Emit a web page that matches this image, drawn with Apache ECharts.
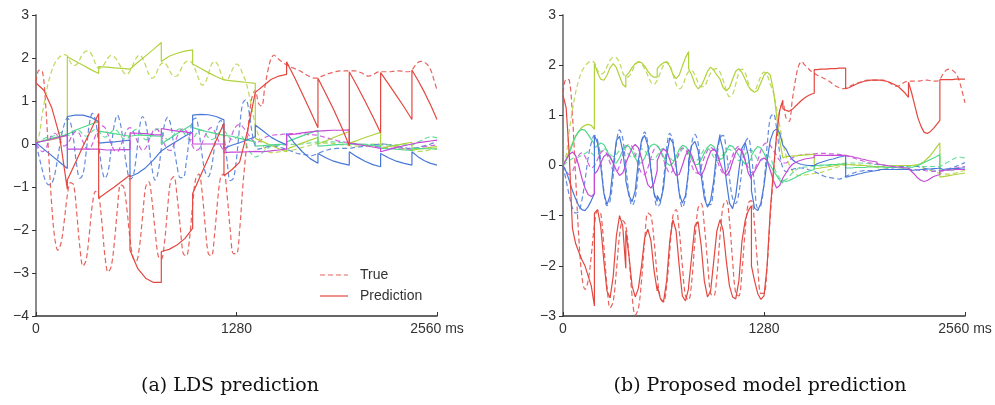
<!DOCTYPE html>
<html>
<head>
<meta charset="utf-8">
<script src="https://cdn.jsdelivr.net/npm/echarts@6/dist/echarts.min.js"></script>
<style>html,body{margin:0;padding:0;background:#fff;}#c{width:995px;height:405px;}</style>
</head>
<body>
<div id="c"></div>
<script>
// ---------- DATA ----------
// time grid of the ground-truth curves (ms, every 20 ms)
const trueStep = 20, trueEnd = 2560;
const segLen = 200; // prediction restart period (ms)
const xTicks = [0, 1280, 2560];
const captions = ['(a) LDS prediction', '(b) Proposed model prediction'];
const legendNames = ['True', 'Prediction'];

// ground truth (shared by both panels)
const trueRed = [1.45,1.72,1.7,1.0,-0.2,-1.4,-2.2,-2.47,-2.3,-1.8,-1.2,-0.9,-0.95,-1.6,-2.4,-2.84,-2.7,-2.1,-1.4,-1.1,-1.2,-1.8,-2.6,-2.98,-2.85,-2.3,-1.5,-0.95,-1.0,-1.5,-2.2,-2.65,-2.72,-2.4,-1.7,-1.0,-0.88,-1.3,-2.0,-2.6,-2.68,-2.3,-1.5,-0.85,-0.76,-1.2,-1.9,-2.55,-2.6,-2.2,-1.4,-0.8,-0.7,-1.1,-1.9,-2.55,-2.6,-2.1,-1.3,-0.75,-0.7,-1.2,-2.0,-2.55,-2.55,-2.0,-1.0,-0.2,0.6,1.1,1.25,0.95,0.88,1.3,1.7,1.98,2.07,2.0,1.94,1.88,1.84,1.8,1.77,1.74,1.71,1.67,1.62,1.58,1.55,1.53,1.54,1.57,1.6,1.63,1.65,1.67,1.69,1.7,1.7,1.7,1.7,1.7,1.7,1.68,1.65,1.61,1.58,1.59,1.63,1.67,1.68,1.68,1.68,1.68,1.69,1.7,1.7,1.69,1.68,1.68,1.72,1.82,1.9,1.92,1.9,1.84,1.72,1.5,1.25];
const trueLime = [0.0,0.2,0.7,1.1,1.45,1.7,1.88,1.98,2.05,2.08,2.05,1.9,1.82,1.85,1.97,2.1,2.16,2.15,2.05,1.86,1.76,1.78,1.88,2.0,2.06,2.03,1.93,1.8,1.66,1.62,1.7,1.85,2.0,2.07,2.0,1.82,1.62,1.53,1.58,1.75,1.87,1.89,1.8,1.66,1.57,1.58,1.7,1.84,1.92,1.93,1.86,1.7,1.5,1.37,1.42,1.62,1.85,1.92,1.85,1.65,1.5,1.5,1.62,1.78,1.86,1.8,1.62,1.45,1.15,0.8,0.45,0.2,0.02,-0.1,-0.17,-0.2,-0.2,-0.19,-0.18,-0.17,-0.16,-0.15,-0.14,-0.12,-0.1,-0.08,-0.06,-0.04,-0.02,0.0,0.01,0.02,0.02,0.02,0.02,0.01,0.0,-0.01,-0.02,-0.03,-0.04,-0.05,-0.05,-0.05,-0.04,-0.03,-0.02,-0.01,0.0,0.0,0.0,0.0,-0.01,-0.02,-0.04,-0.06,-0.08,-0.1,-0.12,-0.14,-0.15,-0.16,-0.17,-0.17,-0.16,-0.15,-0.13,-0.11,-0.1];
const trueBlue = [0.0,-0.3,-0.6,-0.85,-0.95,-0.92,-0.7,-0.3,0.15,0.45,0.6,0.5,0.1,-0.5,-0.8,-0.7,-0.2,0.45,0.71,0.55,0.0,-0.55,-0.8,-0.65,-0.1,0.45,0.67,0.45,-0.05,-0.55,-0.82,-0.75,-0.3,0.35,0.64,0.5,0.0,-0.55,-0.84,-0.65,-0.1,0.45,0.62,0.45,-0.05,-0.5,-0.78,-0.78,-0.4,0.15,0.55,0.6,0.3,-0.25,-0.65,-0.76,-0.55,-0.05,0.45,0.55,0.2,-0.4,-0.85,-0.8,-0.35,0.4,0.95,1.03,0.75,0.25,-0.05,-0.12,-0.1,-0.08,-0.06,-0.05,-0.05,-0.06,-0.08,-0.1,-0.12,-0.15,-0.18,-0.21,-0.23,-0.24,-0.25,-0.26,-0.27,-0.25,-0.22,-0.19,-0.16,-0.14,-0.12,-0.11,-0.1,-0.1,-0.1,-0.1,-0.1,-0.09,-0.08,-0.07,-0.06,-0.05,-0.04,-0.03,-0.02,-0.01,0.0,0.0,-0.01,-0.02,-0.04,-0.05,-0.07,-0.08,-0.09,-0.1,-0.1,-0.09,-0.08,-0.06,-0.04,-0.02,0.0,0.03,0.06];
const trueGreen = [0.0,0.05,0.1,0.14,0.16,0.17,0.2,0.24,0.27,0.25,0.2,0.22,0.29,0.33,0.3,0.22,0.18,0.22,0.3,0.34,0.3,0.21,0.16,0.2,0.28,0.33,0.3,0.2,0.12,0.12,0.2,0.3,0.34,0.28,0.17,0.1,0.12,0.22,0.32,0.35,0.28,0.17,0.1,0.12,0.22,0.32,0.35,0.28,0.17,0.1,0.12,0.22,0.3,0.32,0.25,0.15,0.1,0.13,0.22,0.3,0.3,0.22,0.12,0.1,0.15,0.2,0.15,0.0,-0.15,-0.25,-0.3,-0.28,-0.22,-0.15,-0.1,-0.05,-0.04,-0.03,-0.03,-0.02,-0.02,-0.01,-0.01,0.0,0.0,0.0,0.01,0.02,0.03,0.04,0.05,0.05,0.05,0.05,0.05,0.05,0.04,0.04,0.03,0.02,0.02,0.01,0.01,0.0,0.0,0.0,-0.01,-0.01,-0.02,-0.02,-0.02,-0.02,-0.02,-0.02,-0.02,-0.02,-0.02,-0.02,-0.02,-0.02,-0.02,0.01,0.05,0.08,0.12,0.15,0.17,0.16,0.15];
const trueMag = [0.0,-0.1,-0.18,-0.12,0.05,0.2,0.25,0.18,0.05,-0.05,0.0,0.12,0.25,0.3,0.22,0.05,-0.1,-0.12,0.0,0.2,0.36,0.42,0.38,0.22,0.0,-0.15,-0.18,-0.05,0.15,0.32,0.38,0.3,0.12,-0.05,-0.15,-0.1,0.08,0.25,0.35,0.32,0.18,0.0,-0.13,-0.15,-0.02,0.16,0.3,0.36,0.3,0.12,-0.05,-0.15,-0.12,0.02,0.2,0.33,0.38,0.3,0.12,-0.05,-0.14,-0.08,0.1,0.3,0.42,0.45,0.4,0.3,0.2,0.1,0.05,0.05,0.1,0.15,0.18,0.2,0.21,0.22,0.22,0.23,0.23,0.24,0.24,0.24,0.24,0.23,0.23,0.22,0.22,0.21,0.2,0.18,0.16,0.14,0.12,0.1,0.08,0.06,0.05,0.04,0.03,0.02,0.01,0.0,-0.01,-0.02,-0.03,-0.04,-0.05,-0.06,-0.07,-0.08,-0.08,-0.09,-0.1,-0.1,-0.11,-0.11,-0.12,-0.12,-0.12,-0.11,-0.1,-0.08,-0.06,-0.05,-0.04,-0.03,-0.02];

// LDS prediction (panel a): one list per 200 ms segment, 5 evenly spaced samples each
const ldsRed = [[1.42,1.25,0.85,0.2,-1.05],[-0.84,-0.45,-0.05,0.32,0.71],[-1.26,-1.13,-1.0,-0.86,-0.72],[-2.47,-2.9,-3.12,-3.22,-3.22],[-2.5,-2.45,-2.35,-2.2,-1.96],[-1.15,-0.74,-0.33,0.08,0.48],[-0.74,-0.6,-0.42,0.3,1.2],[1.2,1.35,1.5,1.58,1.62],[1.91,1.55,1.17,0.78,0.38],[1.53,1.17,0.8,0.4,-0.04],[1.68,1.35,1.0,0.64,0.26],[1.66,1.4,1.13,0.86,0.57],[1.72,1.47,1.2,0.9,0.57]];
const ldsLime = [[0.05,0.07,0.1,0.15,0.21],[2.03,1.93,1.83,1.73,1.64],[1.8,1.79,1.77,1.76,1.74],[1.75,1.9,2.05,2.2,2.36],[1.92,2.04,2.11,2.16,2.19],[1.86,1.76,1.66,1.57,1.49],[1.49,1.47,1.45,1.43,1.41],[0.13,0.05,-0.03,-0.11,-0.18],[-0.12,-0.05,0.02,0.09,0.15],[0.0,0.07,0.15,0.22,0.29],[0.02,0.08,0.15,0.21,0.27],[-0.1,-0.06,-0.03,0.01,0.04],[-0.14,-0.12,-0.1,-0.08,-0.06]];
const ldsBlue = [[0.03,-0.12,-0.27,-0.42,-0.57],[0.64,0.67,0.67,0.62,0.52],[0.02,0.04,0.05,0.07,0.09],[-0.76,-0.68,-0.55,-0.37,-0.16],[-0.16,-0.04,0.07,0.18,0.28],[0.67,0.69,0.68,0.64,0.56],[-0.1,-0.03,0.03,0.1,0.17],[0.44,0.3,0.16,0.06,-0.02],[0.25,0.02,-0.18,-0.34,-0.45],[-0.22,-0.32,-0.4,-0.45,-0.49],[-0.18,-0.3,-0.4,-0.48,-0.53],[-0.22,-0.32,-0.4,-0.45,-0.49],[-0.18,-0.3,-0.39,-0.45,-0.49]];
const ldsGreen = [[0.03,0.08,0.13,0.18,0.22],[0.25,0.32,0.39,0.46,0.52],[0.3,0.27,0.24,0.21,0.18],[0.22,0.21,0.2,0.19,0.18],[0.0,0.12,0.24,0.35,0.46],[0.38,0.33,0.28,0.24,0.2],[0.22,0.18,0.13,0.09,0.05],[-0.05,-0.04,-0.02,-0.01,0.0],[0.05,0.12,0.19,0.26,0.32],[-0.05,-0.04,-0.02,-0.01,0.0],[0.0,-0.01,-0.02,-0.04,-0.05],[-0.1,-0.11,-0.12,-0.14,-0.15],[-0.1,-0.1,-0.11,-0.11,-0.12]];
const ldsMag = [[0.03,0.07,0.11,0.16,0.2],[-0.12,-0.12,-0.12,-0.12,-0.12],[-0.14,-0.14,-0.14,-0.13,-0.13],[0.26,0.25,0.24,0.22,0.21],[0.36,0.33,0.3,0.28,0.25],[0.0,0.0,0.0,0.0,0.0],[-0.2,-0.19,-0.19,-0.18,-0.17],[-0.2,-0.18,-0.16,-0.14,-0.12],[0.21,0.23,0.26,0.28,0.3],[0.31,0.31,0.32,0.32,0.33],[0.02,-0.01,-0.04,-0.07,-0.1],[-0.18,-0.13,-0.08,-0.04,0.0],[0.0,0.03,0.05,0.07,0.09]];

// Proposed model prediction (panel b): one list per 200 ms segment, samples every 20 ms
const propRed = [[1.4,1.15,0.2,-1.25,-1.55,-1.72,-1.88,-2.0,-2.2,-2.4,-2.8],[-0.95,-0.88,-1.2,-1.9,-2.5,-2.64,-2.2,-1.4,-1.0,-1.2,-2.05],[-1.3,-1.8,-2.4,-2.62,-2.45,-2.0,-1.45,-1.27,-1.5,-2.1,-2.5],[-2.4,-2.65,-2.72,-2.3,-1.5,-1.08,-1.3,-2.0,-2.6,-2.7,-2.45],[-2.4,-1.8,-1.2,-1.12,-1.6,-2.3,-2.62,-2.5,-1.9,-1.3,-1.08],[-1.1,-1.3,-1.9,-2.4,-2.62,-2.66,-2.3,-1.5,-1.1,-0.9,-0.8],[-2.0,-2.3,-2.55,-2.67,-2.6,-2.0,-0.9,-0.1,0.6,1.1,1.3],[1.13,1.1,1.08,1.12,1.18,1.24,1.3,1.35,1.39,1.42,1.44],[1.91,1.91,1.92,1.92,1.92,1.93,1.93,1.93,1.94,1.94,1.94],[1.53,1.55,1.58,1.61,1.64,1.66,1.68,1.69,1.7,1.7,1.7],[1.7,1.7,1.69,1.68,1.66,1.63,1.6,1.56,1.5,1.44,1.36],[1.66,1.45,1.2,0.95,0.78,0.66,0.64,0.68,0.74,0.82,0.9],[1.71,1.71,1.71,1.71,1.71,1.72,1.72,1.72,1.72]];
const propLime = [[0.0,0.12,0.3,0.45,0.58,0.68,0.76,0.8,0.82,0.8,0.72],[2.03,1.85,1.72,1.7,1.8,1.95,2.03,1.95,1.78,1.62,1.56],[1.78,1.85,1.95,2.03,2.07,2.05,1.98,1.88,1.8,1.76,1.76],[1.93,2.0,2.05,2.06,1.98,1.82,1.73,1.8,1.98,2.15,2.27],[1.93,1.8,1.62,1.53,1.58,1.72,1.88,1.96,1.9,1.8,1.72],[1.72,1.55,1.49,1.55,1.72,1.88,1.93,1.85,1.72,1.58,1.5],[1.5,1.46,1.5,1.65,1.8,1.86,1.8,1.5,1.0,0.5,0.15],[0.17,0.18,0.18,0.19,0.19,0.2,0.2,0.21,0.21,0.22,0.22],[-0.07,-0.06,-0.05,-0.04,-0.03,-0.02,-0.01,0.0,0.01,0.02,0.03],[0.02,0.02,0.01,0.01,0.0,0.0,0.0,-0.01,-0.01,-0.02,-0.02],[-0.02,-0.02,-0.02,-0.01,-0.01,-0.01,0.0,0.0,0.0,0.0,0.0],[0.0,0.0,0.01,0.02,0.04,0.08,0.14,0.2,0.28,0.37,0.45],[-0.23,-0.22,-0.21,-0.2,-0.19,-0.18,-0.17,-0.16,-0.15]];
const propBlue = [[0.0,-0.12,-0.3,-0.5,-0.66,-0.8,-0.88,-0.9,-0.82,-0.7,-0.56],[0.6,0.45,0.0,-0.55,-0.78,-0.6,0.0,0.5,0.58,0.3,-0.2],[-0.3,-0.6,-0.72,-0.5,0.1,0.5,0.6,0.4,-0.1,-0.55,-0.72],[-0.6,-0.72,-0.45,0.2,0.55,0.45,0.0,-0.55,-0.75,-0.6,-0.1],[0.1,0.4,0.48,0.3,-0.2,-0.65,-0.83,-0.7,-0.3,0.3,0.62],[0.55,0.3,-0.3,-0.75,-0.86,-0.6,-0.1,0.35,0.46,0.2,-0.3],[-0.5,-0.85,-0.9,-0.75,-0.4,0.1,0.5,0.68,0.73,0.65,0.4],[0.43,0.33,0.2,0.12,0.07,0.04,0.02,0.01,0.0,0.0,0.0],[0.02,0.04,0.06,0.08,0.1,0.12,0.13,0.15,0.17,0.18,0.2],[-0.23,-0.22,-0.2,-0.19,-0.17,-0.16,-0.14,-0.13,-0.12,-0.11,-0.1],[-0.08,-0.08,-0.08,-0.08,-0.08,-0.08,-0.08,-0.08,-0.08,-0.08,-0.08],[-0.1,-0.1,-0.09,-0.09,-0.08,-0.08,-0.07,-0.07,-0.06,-0.06,-0.05],[-0.08,-0.08,-0.07,-0.07,-0.06,-0.06,-0.06,-0.05,-0.05]];
const propGreen = [[0.02,0.1,0.25,0.42,0.58,0.68,0.72,0.7,0.62,0.52,0.43],[0.35,0.4,0.45,0.42,0.3,0.15,0.05,0.05,0.15,0.3,0.4],[0.42,0.38,0.28,0.15,0.05,0.05,0.15,0.3,0.4,0.43,0.4],[0.38,0.3,0.18,0.05,0.0,0.05,0.18,0.32,0.4,0.38,0.3],[0.25,0.12,0.02,0.02,0.12,0.25,0.36,0.42,0.38,0.25,0.12],[0.1,0.15,0.3,0.4,0.38,0.3,0.2,0.1,0.03,0.05,0.15],[0.2,0.3,0.38,0.35,0.25,0.1,0.0,-0.1,-0.2,-0.3,-0.35],[-0.3,-0.32,-0.3,-0.27,-0.24,-0.2,-0.17,-0.14,-0.12,-0.1,-0.08],[0.0,0.0,0.01,0.01,0.01,0.02,0.02,0.02,0.03,0.03,0.03],[-0.05,-0.05,-0.05,-0.04,-0.04,-0.04,-0.04,-0.03,-0.03,-0.03,-0.03],[-0.03,-0.03,-0.03,-0.04,-0.04,-0.04,-0.04,-0.05,-0.05,-0.05,-0.05],[-0.05,-0.04,-0.02,0.0,0.03,0.06,0.09,0.12,0.15,0.18,0.22],[-0.1,-0.1,-0.09,-0.09,-0.09,-0.08,-0.08,-0.08,-0.08]];
const propMag = [[0.0,0.12,0.22,0.27,0.2,0.0,-0.25,-0.45,-0.58,-0.62,-0.56],[-0.17,-0.1,0.05,0.18,0.23,0.18,0.05,-0.1,-0.2,-0.15,0.0],[0.05,0.2,0.35,0.42,0.35,0.15,-0.15,-0.38,-0.45,-0.35,-0.1],[0.1,0.25,0.33,0.28,0.12,-0.08,-0.2,-0.18,0.0,0.2,0.32],[0.3,0.2,0.02,-0.15,-0.2,-0.08,0.12,0.28,0.33,0.25,0.05],[0.05,-0.12,-0.2,-0.12,0.08,0.26,0.34,0.28,0.1,-0.15,-0.27],[-0.2,-0.12,0.0,0.12,0.15,0.1,-0.1,-0.3,-0.45,-0.4,-0.25],[-0.25,-0.15,-0.05,0.02,0.06,0.09,0.11,0.13,0.14,0.15,0.16],[0.2,0.2,0.2,0.2,0.2,0.2,0.2,0.2,0.2,0.2,0.2],[0.2,0.19,0.18,0.16,0.15,0.13,0.12,0.1,0.09,0.08,0.07],[0.03,0.02,0.01,0.0,-0.01,-0.02,-0.03,-0.03,-0.04,-0.05,-0.05],[-0.08,-0.12,-0.18,-0.25,-0.3,-0.32,-0.3,-0.26,-0.22,-0.2,-0.18],[-0.1,-0.1,-0.09,-0.09,-0.09,-0.08,-0.08,-0.08,-0.08]];

// ---------- BUILD ----------
const COL = {red:'#e4473f', lime:'#b0d23c', blue:'#4878d8', green:'#4fd88c', mag:'#c64ad8'};
const DASH = [5,3];

function trueData(vals){ return vals.map((v,i)=>[i*trueStep, v]); }
function segData(segs){
  const out = [];
  segs.forEach((seg,k)=>{
    const s = k*segLen, e = Math.min(s+segLen, trueEnd), n = seg.length;
    seg.forEach((v,j)=>out.push([s + j*(e-s)/(n-1), v]));
  });
  return out;
}
function dashed(name, vals, color, gi){
  return {name, type:'line', xAxisIndex:gi, yAxisIndex:gi, data:trueData(vals), symbol:'none', smooth:0.35,
    lineStyle:{color, width:1.2, type:DASH, opacity:0.85}, itemStyle:{color}, silent:true, z:2};
}
function solid(name, segs, color, gi){
  return {name, type:'line', xAxisIndex:gi, yAxisIndex:gi, data:segData(segs), symbol:'none',
    lineStyle:{color, width:1.2}, itemStyle:{color}, silent:true, z:3};
}

const series = [];
for (let gi=0; gi<2; gi++){
  series.push(dashed('red-true-'+gi, trueRed, COL.red, gi));
  series.push(dashed('lime-true-'+gi, trueLime, COL.lime, gi));
  series.push(dashed('green-true-'+gi, trueGreen, COL.green, gi));
  series.push(dashed('blue-true-'+gi, trueBlue, COL.blue, gi));
  series.push(dashed('mag-true-'+gi, trueMag, COL.mag, gi));
}
const P = [[ldsLime, ldsGreen, ldsBlue, ldsMag, ldsRed],[propLime, propGreen, propBlue, propMag, propRed]];
const PC = [COL.lime, COL.green, COL.blue, COL.mag, COL.red];
P.forEach((set,gi)=>set.forEach((segs,i)=>{
  series.push(solid('pred-'+gi+'-'+i, segs, PC[i], gi));
}));

const FONT = '"Liberation Sans", Arial, sans-serif';
function xAx(gi){
  return {type:'value', gridIndex:gi, min:0, max:2560, interval:1280,
    axisLine:{onZero:false, lineStyle:{color:'#333', width:1.5}},
    axisTick:{inside:true, length:4, lineStyle:{color:'#333'}},
    splitLine:{show:false},
    axisLabel:{color:'#333', fontSize:14, fontFamily:FONT, margin:6,
      formatter:v=> v===xTicks[2] ? xTicks[2]+' ms' : String(v)}};
}
function yAx(gi, mn){
  return {type:'value', gridIndex:gi, min:mn, max:3, interval:1,
    axisLine:{show:true, onZero:false, lineStyle:{color:'#8a8a8a', width:2}},
    axisTick:{show:true, length:4, lineStyle:{color:'#333'}},
    splitLine:{show:false},
    axisLabel:{color:'#333', fontSize:14, fontFamily:FONT, margin:7,
      formatter:v=> v<0 ? '\u2212'+Math.abs(v) : String(v)}};
}

// legend drawn as a small key in panel (a)
const key = [];
legendNames.forEach((nm,i)=>{
  const y = 275 + i*21;
  key.push({type:'line', shape:{x1:320, y1:y, x2:348, y2:y},
    style:{stroke:COL.red, lineWidth:1.2, lineDash: i===0 ? DASH : null, opacity: i===0 ? 0.85 : 1}, z:10});
  key.push({type:'text', style:{text:nm, x:360, y:y, fill:'#333', fontSize:14, fontFamily:FONT, align:'left', verticalAlign:'middle'}, z:10});
});

const option = {
  animation:false,
  backgroundColor:'#fff',
  grid:[{left:36, top:15, width:401, height:301}, {left:563, top:15, width:402, height:301}],
  xAxis:[xAx(0), xAx(1)],
  yAxis:[yAx(0,-4), yAx(1,-3)],
  graphic:[
    ...key,
    {type:'text', style:{text:captions[0], x:230, y:386, fontFamily:'"DejaVu Serif", serif', fontSize:19, fill:'#111', align:'center', verticalAlign:'middle'}},
    {type:'text', style:{text:captions[1], x:760, y:386, fontFamily:'"DejaVu Serif", serif', fontSize:19, fill:'#111', align:'center', verticalAlign:'middle'}}
  ],
  series
};
const chart = echarts.init(document.getElementById('c'), null, {renderer:'canvas'});
chart.setOption(option);
</script>
</body>
</html>
